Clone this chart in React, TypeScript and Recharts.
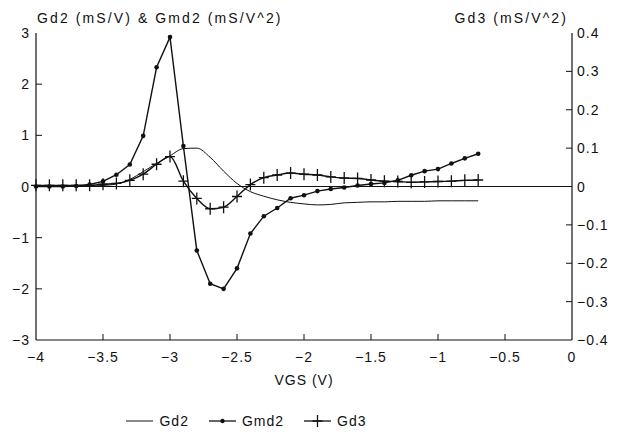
import React from "react";
import {
  CartesianGrid,
  Legend,
  Line,
  LineChart,
  ReferenceLine,
  XAxis,
  YAxis,
} from "recharts";

// VGS (V) sample points
const vgs = [
  -4.0, -3.9, -3.8, -3.7, -3.6, -3.5, -3.4, -3.3, -3.2, -3.1, -3.0, -2.9, -2.8, -2.7, -2.6, -2.5, -2.4,
  -2.3, -2.2, -2.1, -2.0, -1.9, -1.8, -1.7, -1.6, -1.5, -1.4, -1.3, -1.2, -1.1, -1.0, -0.9, -0.8, -0.7,
];

// Gd2 (mS/V), left axis
const gd2 = [
  0, 0, 0, 0, 0.005, 0.02, 0.05, 0.14, 0.29, 0.45, 0.6, 0.74, 0.75, 0.57, 0.3, 0.06, -0.1,
  -0.19, -0.26, -0.31, -0.34, -0.36, -0.35, -0.32, -0.31, -0.3, -0.3, -0.29, -0.29, -0.29, -0.28, -0.28, -0.28, -0.28,
];

// Gmd2 (mS/V^2), left axis
const gmd2 = [
  0, 0, 0, 0.01, 0.04, 0.1, 0.23, 0.43, 0.99, 2.33, 2.92, 0.79, -1.25, -1.9, -2.0, -1.6, -0.92,
  -0.58, -0.42, -0.23, -0.17, -0.09, -0.05, -0.02, 0.02, 0.05, 0.07, 0.12, 0.22, 0.3, 0.34, 0.45, 0.55, 0.64,
];

// Gd3 (mS/V^2), right axis
const gd3 = [
  0.003, 0.003, 0.003, 0.003, 0.003, 0.006, 0.008, 0.016, 0.032, 0.058, 0.078, 0.014, -0.031, -0.058, -0.054, -0.026, 0.005,
  0.023, 0.03, 0.035, 0.032, 0.03, 0.025, 0.022, 0.021, 0.017, 0.014, 0.013, 0.011, 0.012, 0.013, 0.014, 0.016, 0.017,
];

const xTicks = [-4, -3.5, -3, -2.5, -2, -1.5, -1, -0.5, 0];
const leftTicks = [-3, -2, -1, 0, 1, 2, 3];
const rightTicks = [-0.4, -0.3, -0.2, -0.1, 0, 0.1, 0.2, 0.3, 0.4];

const data = vgs.map((v, i) => ({ vgs: v, gd2: gd2[i], gmd2: gmd2[i], gd3: gd3[i] }));

const FONT = "'Liberation Sans', Arial, Helvetica, sans-serif";
const INK = "#111";

const fmt = (v: number) => (v === 0 ? "0" : String(v).replace("-", "\u2212"));

function XTick(props: any) {
  const { x, y, payload } = props;
  const v = payload.value;
  const inner = v !== -4 && v !== 0;
  return (
    <g>
      {inner && <line x1={x} x2={x} y1={y} y2={y - 6} stroke={INK} strokeWidth={1} />}
      <text x={x} y={y + 22} textAnchor="middle" fontFamily={FONT} fontSize={14} letterSpacing={1} fill={INK}>
        {fmt(v)}
      </text>
    </g>
  );
}

function LeftTick(props: any) {
  const { x, y, payload } = props;
  const v = payload.value;
  const inner = v !== -3 && v !== 3;
  return (
    <g>
      {inner && <line x1={x} x2={x + 6} y1={y} y2={y} stroke={INK} strokeWidth={1} />}
      <text x={x - 6} y={y + 5} textAnchor="end" fontFamily={FONT} fontSize={14} letterSpacing={1} fill={INK}>
        {fmt(v)}
      </text>
    </g>
  );
}

function RightTick(props: any) {
  const { x, y, payload } = props;
  const v = payload.value;
  const inner = v !== -0.4 && v !== 0.4;
  return (
    <g>
      {inner && <line x1={x} x2={x - 6} y1={y} y2={y} stroke={INK} strokeWidth={1} />}
      <text x={x + 5} y={y + 5} textAnchor="start" fontFamily={FONT} fontSize={14} letterSpacing={1} fill={INK}>
        {fmt(v)}
      </text>
    </g>
  );
}

function PlusDot(props: any) {
  const { cx, cy } = props;
  if (cx == null || cy == null) return null;
  return <path d={`M${cx - 5},${cy}H${cx + 5}M${cx},${cy - 6}V${cy + 6}`} stroke={INK} strokeWidth={1.3} fill="none" />;
}

function LegendContent() {
  const item = (label: string, mark: "none" | "dot" | "plus") => (
    <span style={{ display: "inline-flex", alignItems: "center", margin: "0 10px" }}>
      <svg width={27} height={14} style={{ marginRight: 6 }}>
        <line x1={0} x2={27} y1={7} y2={7} stroke={INK} strokeWidth={mark === "none" ? 1 : 1.3} />
        {mark === "dot" && <circle cx={13.5} cy={7} r={2.2} fill={INK} />}
        {mark === "plus" && <path d="M8.5,7H18.5M13.5,1V13" stroke={INK} strokeWidth={1.3} />}
      </svg>
      <span>{label}</span>
    </span>
  );
  return (
    <div
      style={{
        fontFamily: FONT,
        fontSize: 14,
        letterSpacing: 1,
        color: INK,
        display: "flex",
        justifyContent: "center",
        paddingRight: 125,
        height: 20,
        alignItems: "center",
      }}
    >
      {item("Gd2", "none")}
      {item("Gmd2", "dot")}
      {item("Gd3", "plus")}
    </div>
  );
}

export default function App() {
  return (
    <div style={{ position: "absolute", left: 0, top: 0, width: 623, height: 439, background: "#fff" }}>
      <LineChart width={623} height={439} data={data} margin={{ top: 33, right: 11, bottom: 8, left: 6 }}>
        <CartesianGrid horizontal={false} vertical={false} stroke="none" />
        <XAxis
          xAxisId="b"
          dataKey="vgs"
          type="number"
          domain={[-4, 0]}
          ticks={xTicks}
          tick={<XTick />}
          tickLine={false}
          tickSize={0}
          tickMargin={0}
          axisLine={{ stroke: INK, strokeWidth: 1.2 }}
          height={71}
          interval={0}
          label={{ value: "VGS (V)", position: "insideTop", offset: 35, fontFamily: FONT, fontSize: 14, letterSpacing: 1, fill: INK }}
        />
        <XAxis
          xAxisId="t"
          orientation="top"
          dataKey="vgs"
          type="number"
          domain={[-4, 0]}
          tick={false}
          tickLine={false}
          height={0}
          axisLine={{ stroke: INK, strokeWidth: 1.2 }}
        />
        <YAxis
          yAxisId="l"
          domain={[-3, 3]}
          ticks={leftTicks}
          tick={<LeftTick />}
          tickLine={false}
          tickSize={0}
          tickMargin={0}
          width={30}
          interval={0}
          axisLine={{ stroke: INK, strokeWidth: 1.2 }}
        />
        <YAxis
          yAxisId="r"
          orientation="right"
          domain={[-0.4, 0.4]}
          ticks={rightTicks}
          tick={<RightTick />}
          tickLine={false}
          tickSize={0}
          tickMargin={0}
          width={40}
          interval={0}
          axisLine={{ stroke: INK, strokeWidth: 1.2 }}
        />
        <ReferenceLine xAxisId="b" yAxisId="l" y={0} stroke={INK} strokeWidth={1.2} />
        <Line
          xAxisId="b"
          yAxisId="l"
          type="monotone"
          dataKey="gd2"
          name="Gd2"
          stroke={INK}
          strokeWidth={1}
          dot={false}
          isAnimationActive={false}
        />
        <Line
          xAxisId="b"
          yAxisId="l"
          type="linear"
          dataKey="gmd2"
          name="Gmd2"
          stroke={INK}
          strokeWidth={1.4}
          dot={{ r: 2.3, fill: INK, stroke: "none" }}
          isAnimationActive={false}
        />
        <Line
          xAxisId="b"
          yAxisId="r"
          type="monotone"
          dataKey="gd3"
          name="Gd3"
          stroke={INK}
          strokeWidth={1.4}
          dot={<PlusDot />}
          isAnimationActive={false}
        />
        <Legend verticalAlign="bottom" content={<LegendContent />} />
      </LineChart>
      <div
        style={{
          position: "absolute",
          left: 37,
          top: 10,
          fontFamily: FONT,
          fontSize: 14,
          letterSpacing: 2.1,
          color: INK,
          whiteSpace: "nowrap",
        }}
      >
        Gd2 (mS/V) &amp; Gmd2 (mS/V^2)
      </div>
      <div
        style={{
          position: "absolute",
          right: 55,
          top: 10,
          fontFamily: FONT,
          fontSize: 14,
          letterSpacing: 2.1,
          color: INK,
          whiteSpace: "nowrap",
        }}
      >
        Gd3 (mS/V^2)
      </div>
    </div>
  );
}
